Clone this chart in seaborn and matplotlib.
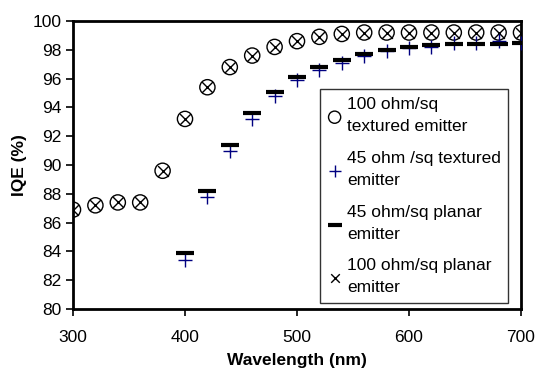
import matplotlib
matplotlib.use("Agg")
import matplotlib.pyplot as plt
import seaborn as sns
import numpy as np

wavelength = [300, 320, 340, 360, 380, 400, 420, 440, 460, 480, 500, 520, 540, 560, 580, 600, 620, 640, 660, 680, 700]
tex100 = [86.9, 87.2, 87.4, 87.4, 89.6, 93.2, 95.4, 96.8, 97.6, 98.2, 98.6, 98.9, 99.1, 99.2, 99.2, 99.2, 99.2, 99.2, 99.2, 99.2, 99.2]
pla100 = [86.9, 87.2, 87.4, 87.4, 89.6, 93.2, 95.4, 96.8, 97.6, 98.2, 98.6, 98.9, 99.1, 99.2, 99.2, 99.2, 99.2, 99.2, 99.2, 99.2, 99.2]
wl45 = [400, 420, 440, 460, 480, 500, 520, 540, 560, 580, 600, 620, 640, 660, 680, 700]
tex45 = [83.4, 87.8, 91.0, 93.2, 94.8, 95.9, 96.6, 97.1, 97.6, 97.9, 98.1, 98.2, 98.5, 98.5, 98.6, 98.5]
pla45 = [83.9, 88.2, 91.4, 93.6, 95.1, 96.1, 96.8, 97.3, 97.7, 98.0, 98.2, 98.3, 98.4, 98.4, 98.4, 98.5]

sns.set_style("white")
plt.rcParams['font.family'] = ['Liberation Sans', 'DejaVu Sans']
plt.rcParams['text.color'] = 'black'
plt.rcParams['axes.labelcolor'] = 'black'

fig = plt.figure(figsize=(5.39, 3.79), dpi=100)
ax = fig.add_axes([73/539, 1 - 309/379, (521-73)/539, (309-21)/379])

sns.scatterplot(x=wavelength, y=tex100, ax=ax, marker='o', s=120, facecolors='none',
                edgecolor='black', linewidth=1.0, label='100 ohm/sq\ntextured emitter', zorder=3)
sns.scatterplot(x=wl45, y=tex45, ax=ax, marker='+', s=110, color='#000080',
                linewidth=1.0, label='45 ohm /sq textured\nemitter', zorder=4)
sns.scatterplot(x=wl45, y=pla45, ax=ax, marker='_', s=180, color='black',
                linewidth=3.0, label='45 ohm/sq planar\nemitter', zorder=4)
sns.scatterplot(x=wavelength, y=pla100, ax=ax, marker='x', s=60, color='black',
                linewidth=1.0, label='100 ohm/sq planar\nemitter', zorder=3)

ax.set_xlim(300, 700)
ax.set_ylim(80, 100)
ax.set_xticks(range(300, 701, 100))
ax.set_yticks(range(80, 101, 2))
ax.tick_params(axis='both', direction='out', length=5, width=1.2, labelsize=12.5,
               colors='black', left=True, bottom=True)
ax.tick_params(axis='x', pad=10)
ax.tick_params(axis='y', pad=3)
for sp in ax.spines.values():
    sp.set_visible(True)
    sp.set_color('black')
    sp.set_linewidth(2.0)
ax.set_xlabel('Wavelength (nm)', fontsize=12.5, fontweight='bold', labelpad=6)
ax.set_ylabel('IQE (%)', fontsize=12.5, fontweight='bold', labelpad=4)

leg = ax.legend(loc='lower right', bbox_to_anchor=(0.972, 0.02), fontsize=12.5, frameon=True,
                fancybox=False, edgecolor='black', handletextpad=0.3, handlelength=0.8,
                labelspacing=0.95, borderpad=0.45, markerscale=0.8, borderaxespad=0)
leg.get_frame().set_linewidth(1.0)
for t in leg.get_texts():
    t.set_linespacing(1.6)
    t.set_color('black')

fig.savefig('out.png', dpi=100)
